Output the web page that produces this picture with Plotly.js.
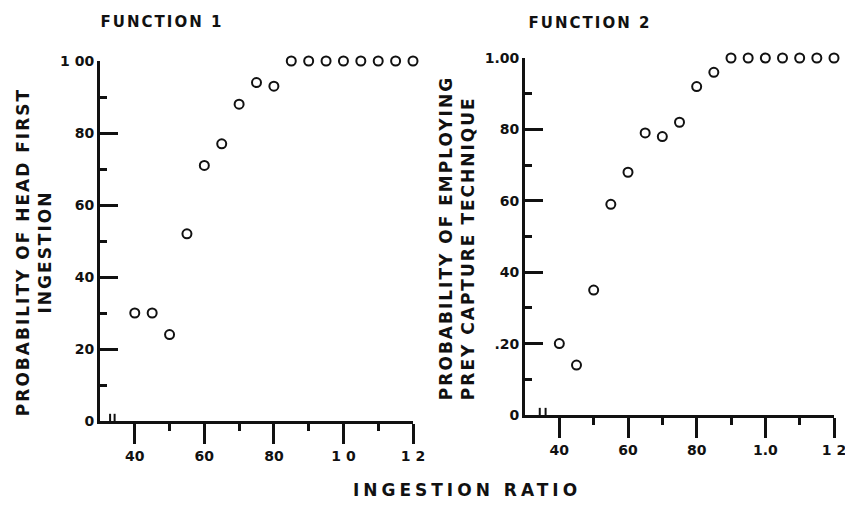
<!DOCTYPE html>
<html><head><meta charset="utf-8">
<script src="https://cdn.plot.ly/plotly-3.0.1.min.js"></script>
<style>
body{margin:0;background:#fff}
#wrap{position:relative;width:845px;height:506px}
.lbl{position:absolute;font-family:"DejaVu Sans",Arial,sans-serif;font-weight:bold;color:#111;white-space:nowrap;pointer-events:none;line-height:22px}
</style>
</head><body>
<div id="wrap">
<div id="chart" style="width:845px;height:506px"></div>
</div>
<script>
// ---- data ----
const ingestionRatio = [0.40,0.45,0.50,0.55,0.60,0.65,0.70,0.75,0.80,0.85,0.90,0.95,1.00,1.05,1.10,1.15,1.20];
const function1Prob  = [0.30,0.30,0.24,0.52,0.71,0.77,0.88,0.94,0.93,1.00,1.00,1.00,1.00,1.00,1.00,1.00,1.00];
const function2Prob  = [0.20,0.14,0.35,0.59,0.68,0.79,0.78,0.82,0.92,0.96,1.00,1.00,1.00,1.00,1.00,1.00,1.00];

const xTickVals  = [0.4,0.6,0.8,1.0,1.2];
const xTickText1 = ["40","60","80","1 0","1 2"];
const xTickText2 = ["40","60","80","1.0","1 2"];
const xMinorVals = [0.5,0.7,0.9,1.1];
const yTickVals  = [0,0.2,0.4,0.6,0.8,1.0];
const yTickText1 = ["0","20","40","60","80","1 00"];
const yTickText2 = ["0",".20","40","60","80","1.00"];

// axis-break symbol "||" near the origin of each x axis
const breakX1 = [0.329, 0.329, null, 0.342, 0.342];
const breakX2 = [0.343, 0.343, null, 0.360, 0.360];
const breakY  = [-0.02, 0.02, null, -0.02, 0.02];

const panelTitles = ["FUNCTION 1","FUNCTION 2"];
const yTitle1 = ["PROBABILITY OF HEAD FIRST","INGESTION"];
const yTitle2 = ["PROBABILITY OF EMPLOYING","PREY CAPTURE TECHNIQUE"];
const xTitle  = "INGESTION RATIO";

// ---- styling ----
const FONT = "DejaVu Sans, Arial, sans-serif";
const INK = "#111";
const tickFont = {family: FONT, size: 14, color: INK, weight: "bold"};

function xAxis(domain, ticktext, anchor) {
  return {
    domain: domain, range: [0.3, 1.2], anchor: anchor,
    showgrid: false, zeroline: false,
    showline: true, linewidth: 3, linecolor: INK,
    ticks: "outside", ticklen: 20, tickwidth: 3, tickcolor: INK,
    tickmode: "array", tickvals: xTickVals, ticktext: ticktext,
    tickfont: tickFont, ticklabeloverflow: "allow",
    minor: {tickmode: "array", tickvals: xMinorVals, ticks: "outside", ticklen: 7, tickwidth: 3, tickcolor: INK}
  };
}
function yAxis(domain, ticktext, anchor) {
  return {
    domain: domain, range: [0, 1.0], anchor: anchor,
    showgrid: false, zeroline: false,
    showline: true, linewidth: 3, linecolor: INK,
    ticks: "inside", ticklen: 18, tickwidth: 3, tickcolor: INK,
    tickmode: "array", tickvals: yTickVals, ticktext: ticktext,
    tickfont: tickFont,
    minor: {tick0: 0.1, dtick: 0.2, ticks: "inside", ticklen: 7, tickwidth: 3, tickcolor: INK}
  };
}

const markerStyle = {symbol: "circle-open", size: 9, color: INK, line: {width: 2, color: INK}};

const traces = [
  {x: ingestionRatio, y: function1Prob, xaxis: "x", yaxis: "y", type: "scatter", mode: "markers",
   marker: markerStyle, cliponaxis: false},
  {x: ingestionRatio, y: function2Prob, xaxis: "x2", yaxis: "y2", type: "scatter", mode: "markers",
   marker: markerStyle, cliponaxis: false},
  {x: breakX1, y: breakY, xaxis: "x", yaxis: "y", type: "scatter", mode: "lines",
   line: {color: INK, width: 2}, cliponaxis: false, connectgaps: false, hoverinfo: "skip"},
  {x: breakX2, y: breakY, xaxis: "x2", yaxis: "y2", type: "scatter", mode: "lines",
   line: {color: INK, width: 2}, cliponaxis: false, connectgaps: false, hoverinfo: "skip"}
];

const layout = {
  width: 845, height: 506,
  margin: {l: 0, r: 0, t: 0, b: 0},
  showlegend: false,
  xaxis:  xAxis([100/845, 413/845], xTickText1, "y"),
  yaxis:  yAxis([1 - 421/506, 1 - 61/506], yTickText1, "x"),
  xaxis2: xAxis([525/845, 834/845], xTickText2, "y2"),
  yaxis2: yAxis([1 - 415/506, 1 - 58/506], yTickText2, "x2")
};

// ---- text labels (titles) as real text placed over the figure ----
function addLabel(lines, cx, cy, size, spacing, rotate, align) {
  const d = document.createElement("div");
  d.className = "lbl";
  d.style.fontSize = size + "px";
  d.style.letterSpacing = spacing + "px";
  d.style.textAlign = align || "center";
  d.style.left = cx + "px";
  d.style.top = cy + "px";
  d.style.transform = "translate(-50%,-50%)" + (rotate ? " rotate(-90deg)" : "");
  lines.forEach((t, i) => {
    if (i) d.appendChild(document.createElement("br"));
    d.appendChild(document.createTextNode(t));
  });
  document.getElementById("wrap").appendChild(d);
}

const gd = document.getElementById("chart");
Plotly.newPlot(gd, traces, layout, {staticPlot: true}).then(() => {
  addLabel([panelTitles[0]], 162, 22, 15, 2, false);
  addLabel([panelTitles[1]], 590, 23, 15, 2, false);
  addLabel(yTitle1, 34, 252, 17, 2, true, "center");
  addLabel(yTitle2, 457, 238, 17, 2, true, "left");
  addLabel([xTitle], 467, 490, 17, 4, false);
});
</script>
</body></html>
